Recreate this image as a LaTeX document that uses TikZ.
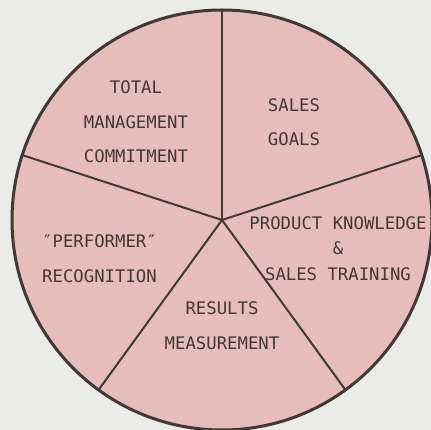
\documentclass[tikz,border=0pt]{standalone}
\usepackage{fontspec}
\setmonofont{DejaVu Sans Mono}
\definecolor{wedge}{RGB}{231,189,188}
\definecolor{paper}{RGB}{235,235,233}
\definecolor{ink}{RGB}{66,56,52}

\begin{document}
\begin{tikzpicture}[x=1pt, y=1pt,
	spoke/.style={draw=ink, line width=2pt},
	part/.style={align=center, text=ink, inner sep=0pt, font=\ttfamily\fontsize{17.3}{34.5}\selectfont}]
	
	\fill[paper] (-222,-210) rectangle (209,220);
	\useasboundingbox (-222,-210) rectangle (209,220);
	
	\coordinate (c) at (0,0);
	\coordinate (r1) at (90:210pt);
	\coordinate (r2) at (18:210pt);
	\coordinate (r3) at (-54:210pt);
	\coordinate (r4) at (-126:210pt);
	\coordinate (r5) at (162:210pt);
	
	\fill[wedge] (c) circle[radius=210pt];
	\draw[spoke] (c) -- (r1);
	\draw[spoke] (c) -- (r2);
	\draw[spoke] (c) -- (r3);
	\draw[spoke] (c) -- (r4);
	\draw[spoke] (c) -- (r5);
	\draw[ink, line width=3pt] (c) circle[radius=210pt];
	
	
	\node[part] (total) at (-86,98) {TOTAL\\MANAGEMENT\\COMMITMENT};
	\node[part] (goals) at (72,98) {SALES\\GOALS};
	\node[part, font=\ttfamily\fontsize{17.3}{25.5}\selectfont] (product) at (116,-28.5) {PRODUCT KNOWLEDGE\\\&\\SALES TRAINING};
	\node[part] (performer) at (-122.5,-38.5) {″PERFORMER″\\RECOGNITION};
	\node[part] (results) at (0,-105.5) {RESULTS\\MEASUREMENT};
	
\end{tikzpicture}
\end{document}
